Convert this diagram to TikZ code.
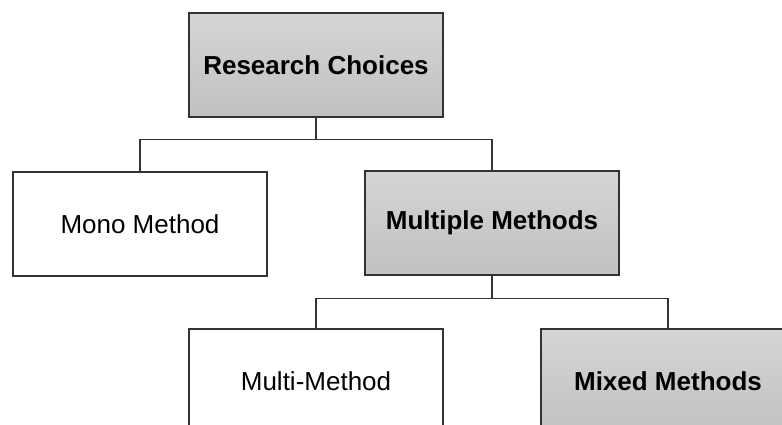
\documentclass[tikz,border=0pt]{standalone}
\usepackage{fontspec}
\setmainfont{Liberation Sans}
\definecolor{boxtop}{HTML}{D5D5D5}
\definecolor{boxbot}{HTML}{C1C1C1}
\definecolor{edge}{HTML}{333333}

\tikzset{
  choice/.style={draw=edge, line width=1.3pt, fill=white, minimum width=254pt,
    minimum height=104pt, inner sep=0pt, font=\fontsize{26}{30}\selectfont},
  keychoice/.style={choice, top color=boxtop, bottom color=boxbot,
    font=\fontsize{26}{30}\selectfont\bfseries},
  link/.style={draw=edge, line width=1.3pt}
}

\begin{document}
\begin{tikzpicture}[
  x=1pt, y=-1pt
]

\useasboundingbox (0,0) rectangle (782,424);
\clip (0,0) rectangle (782,424);

\node [keychoice] (research) at (316,65) {Research Choices};
\node [choice] (mono) at (140,224) {Mono Method};
\node [keychoice] (multiple) at (492,223) {Multiple Methods};
\node [choice] (multi) at (316,381) {Multi-Method};
\node [keychoice] (mixed) at (668,381) {Mixed Methods};

\draw [link] (research.south) -- ++(0,22) -| (mono.north);
\draw [link] (research.south) -- ++(0,22) -| (multiple.north);
\draw [link] (multiple.south) -- ++(0,23) -| (multi.north);
\draw [link] (multiple.south) -- ++(0,23) -| (mixed.north);

\end{tikzpicture}
\end{document}
